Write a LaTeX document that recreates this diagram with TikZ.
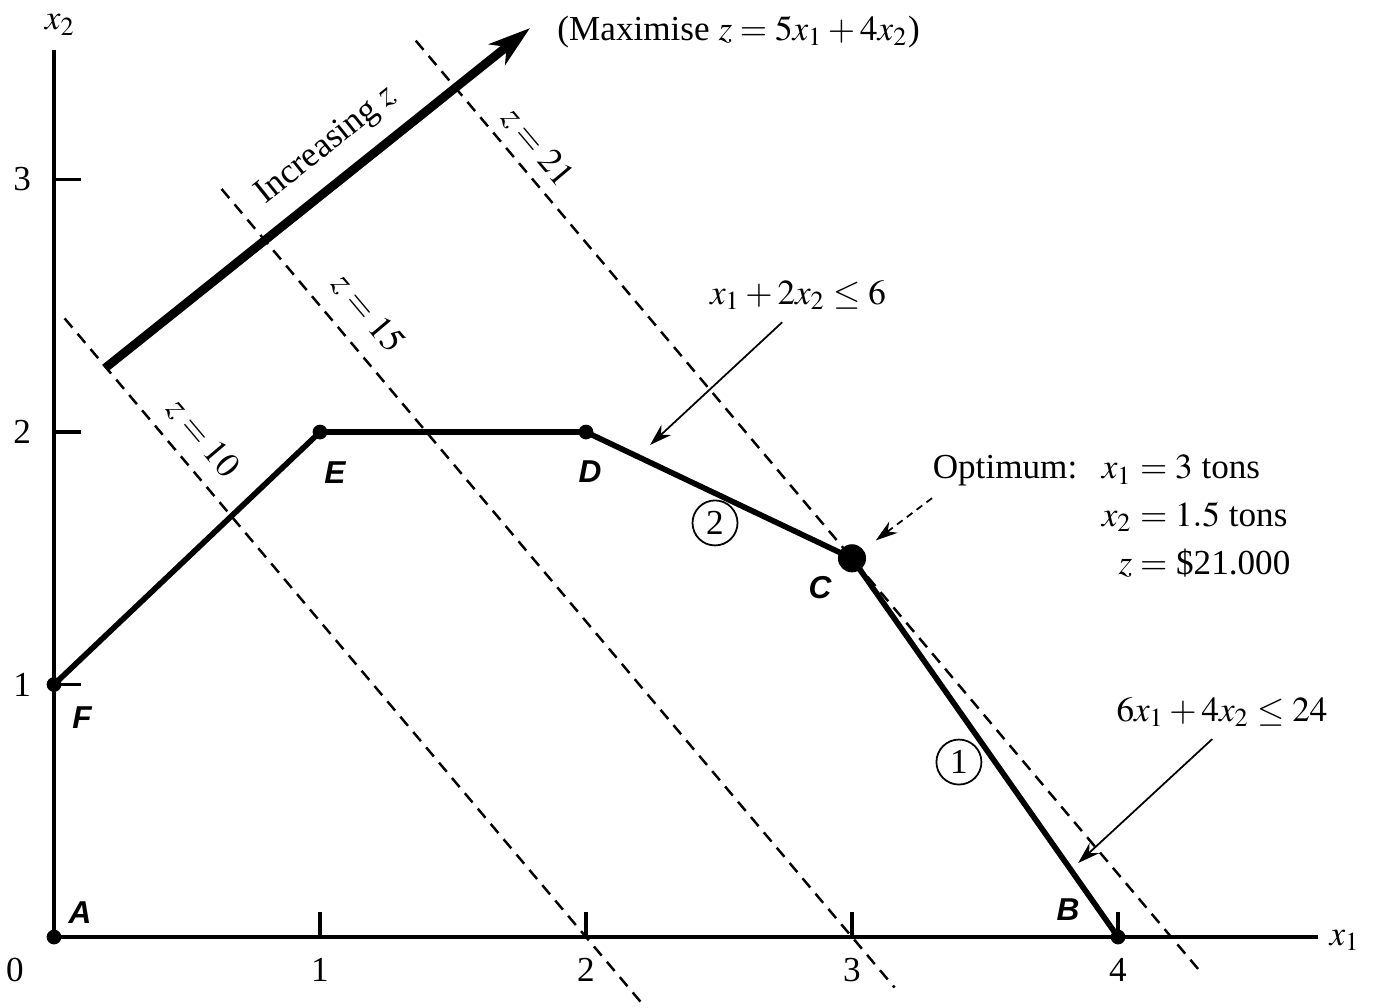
\documentclass[tikz,border=0pt]{standalone}
\usepackage{mathptmx}
\usepackage{fontspec}
\setmainfont{Liberation Serif}
\newfontfamily\ptfont{Liberation Sans}
\usetikzlibrary{arrows.meta,positioning,calc}
\tikzset{
  vertex/.style={circle,fill=black,inner sep=0pt,minimum size=4.2pt},
  optvertex/.style={vertex,minimum size=8pt},
  ptlabel/.style={font=\ptfont\bfseries\itshape\fontsize{9}{10}\selectfont},
  axisline/.style={line width=1.1pt},
  feasline/.style={line width=1.6pt,line join=round},
  zline/.style={line width=0.7pt,dash pattern=on 3.4pt off 2.3pt},
  pointer/.style={line width=0.5pt,-{Stealth[length=2.2mm,width=1.4mm]}},
  circnum/.style={draw,circle,line width=0.5pt,inner sep=0pt,minimum size=4.5mm},
}
\begin{document}
\begin{tikzpicture}[x=2.66cm,y=2.525cm,font=\fontsize{10}{12}\selectfont]
\useasboundingbox (-0.203,-0.281) rectangle (4.985,3.711);
% axes
\coordinate (O) at (0,0);
\coordinate (xend) at (4.752,0);
\coordinate (yend) at (0,3.513);
\draw[axisline] (O) -- (xend);
\draw[axisline] (O) -- (yend);
\node (x1lbl) at (4.853,-0.012) {$x_1$};
\node (x2lbl) at (0.023,3.612) {$x_2$};
\node (zero) at (-0.147,-0.131) {0};
\foreach \k in {1,2,3}{
  \draw[line width=0.9pt] (0,\k) -- (0.1,\k);
  \node at (-0.12,\k) {\k};
}
\foreach \k in {1,2,3,4}{
  \draw[line width=0.9pt] (\k,0) -- (\k,0.1);
  \node at (\k,-0.131) {\k};
}
% objective lines
\foreach \z/\xa/\xb in {10/0.04/2.216, 15/0.63/3.16, 21/1.36/4.32}{
  \draw[zline] (\xa,{(\z-5*\xa)/4}) -- (\xb,{(\z-5*\xb)/4});
}
\foreach \z/\x/\y in {10/0.560/1.976, 15/1.180/2.471, 21/1.818/3.130}{
  \node[rotate=-49.9] at (\x,\y) {$z = \z$};
}
% feasible boundary
\coordinate (A) at (0,0);
\coordinate (B) at (4,0);
\coordinate (C) at (3,1.5);
\coordinate (D) at (2,2);
\coordinate (E) at (1,2);
\coordinate (F) at (0,1);
\draw[feasline] (F) -- (E) -- (D) -- (C) -- (B);
\foreach \p in {A,B,D,E,F}
  \node[vertex] at (\p) {};
\node[optvertex] (Cdot) at (C) {};
\node[ptlabel] (Albl) at (0.098,0.095) {A};
\node[ptlabel] (Blbl) at (3.812,0.107) {B};
\node[ptlabel] (Clbl) at (2.880,1.382) {C};
\node[ptlabel] (Dlbl) at (2.015,1.842) {D};
\node[ptlabel] (Elbl) at (1.056,1.838) {E};
\node[ptlabel] (Flbl) at (0.105,0.867) {F};
% direction of increasing z
\coordinate (arrtail) at (0.192,2.253);
\node[anchor=west] (maxlbl) at (1.846,3.584) {(Maximise $z = 5x_1 + 4x_2$)};
\draw[line width=2.5pt,-{Stealth[length=4.2mm,width=2.6mm,inset=1.2mm]}] (arrtail) -- ([xshift=-1.5mm,yshift=0.4mm]maxlbl.west)
  node[pos=0.573,sloped,above=1pt] {Increasing $z$};
% constraints
\node (c2lbl) at (2.797,2.542) {$x_1 + 2x_2 \le 6$};
\coordinate (c2tip) at (2.241,1.949);
\draw[pointer] ([xshift=-4.5pt]c2lbl.south) -- (c2tip);
\node (c1lbl) at (4.391,0.891) {$6x_1 + 4x_2 \le 24$};
\coordinate (c1tip) at (3.850,0.293);
\draw[pointer] ([xshift=-2.8pt]c1lbl.south) -- (c1tip);
\node[circnum] (n2) at (2.485,1.640) {2};
\node[circnum] (n1) at (3.402,0.693) {1};
% optimum
\node[anchor=west,inner sep=0pt] (opt) at (3.301,1.659) {\begin{tabular}{@{}l@{\hspace{7pt}}r@{}l@{}}
Optimum: & $x_1$ & ${}= 3$ tons\\[1.6pt]
 & $x_2$ & ${}= 1.5$ tons\\[1.6pt]
 & $z$ & ${}=$ \$21.000
\end{tabular}};
\draw[pointer,dash pattern=on 2pt off 1.5pt,shorten >=1.5mm] ([yshift=2mm]opt.west) -- (Cdot);
\end{tikzpicture}
\end{document}
